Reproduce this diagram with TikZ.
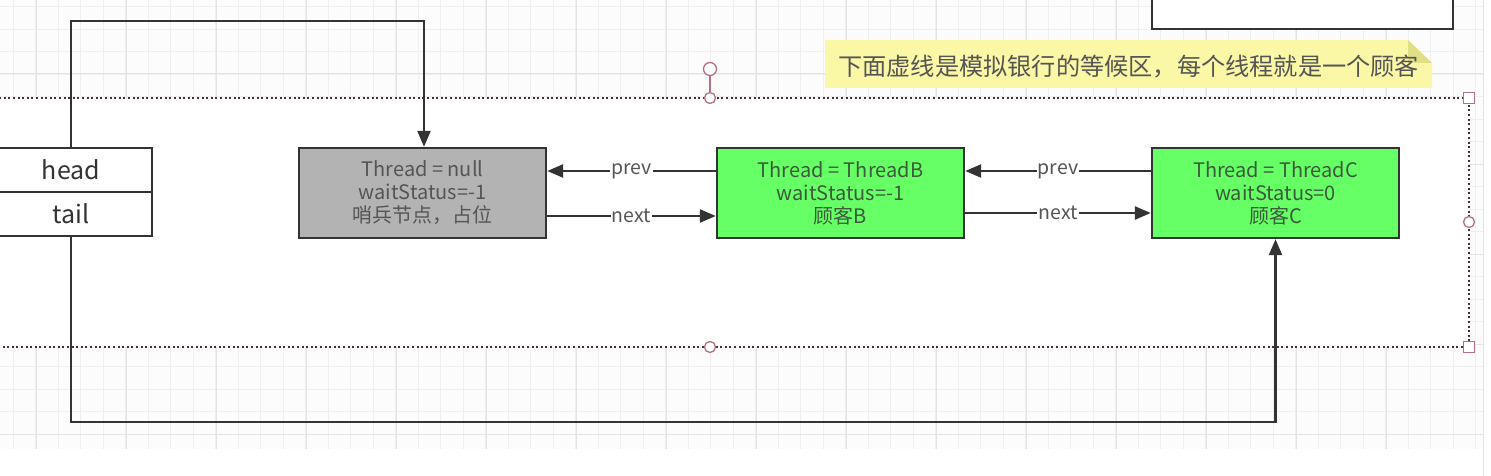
\documentclass[tikz,border=0pt]{standalone}
\usepackage{fontspec}
\setmainfont{Noto Sans CJK SC}
\usetikzlibrary{arrows.meta}
\definecolor{lineC}{HTML}{333333}
\definecolor{gridC}{HTML}{EFEFEF}
\definecolor{gridM}{HTML}{E4E4E4}
\definecolor{bgC}{HTML}{FCFCFC}
\definecolor{dotC}{HTML}{4A2A33}
\definecolor{handleC}{HTML}{B57080}
\definecolor{noteC}{HTML}{FAF8A6}
\definecolor{foldC}{HTML}{E2DE86}
\definecolor{grayC}{HTML}{B3B3B3}
\definecolor{greenC}{HTML}{66FF66}
\definecolor{txtC}{HTML}{555555}
\definecolor{gtxtC}{HTML}{3D5A3D}
\tikzset{
  nodebox/.style={draw=lineC, line width=2.4pt, minimum width=247pt, minimum height=90pt,
    align=center, font=\fontsize{20}{23}\selectfont, inner sep=0pt},
  cellbox/.style={draw=lineC, line width=2.4pt, fill=white, minimum width=162pt, minimum height=44pt,
    font=\fontsize{25}{28}\selectfont, text=lineC, inner sep=0pt},
  conn/.style={draw=lineC, line width=2.4pt},
  arr/.style={conn, -{Triangle[length=16pt,width=13pt]}},
  lbl/.style={fill=white, text=txtC, font=\fontsize{19.5}{22}\selectfont, inner sep=1pt},
  handle/.style={draw=handleC, line width=1.3pt, fill=white}
}
\begin{document}
\begin{tikzpicture}[x=1pt,y=-1pt]
\useasboundingbox (0,0) rectangle (1491,476);
\fill[white] (0,0) rectangle (1491,476);
\fill[bgC] (0,0) rectangle (1483,449);
\foreach \i in {0,...,65} \draw[gridC, line width=1pt] ({13.3+22.5*\i},0) -- ({13.3+22.5*\i},449);
\foreach \j in {0,...,19} \draw[gridC, line width=1pt] (0,{6.7+22.5*\j}) -- (1483,{6.7+22.5*\j});
\foreach \i in {0,...,15} \draw[gridM, line width=1pt] ({36+90*\i},0) -- ({36+90*\i},449);
\foreach \j in {0,...,4} \draw[gridM, line width=1pt] (0,{74+90*\j}) -- (1483,{74+90*\j});
\draw[gridM, line width=1pt] (1483,0) -- (1483,476);

% waiting area (dotted)
\fill[white] (-10,98) rectangle (1469,347);
\draw[dotC, line width=2pt, dash pattern=on 2pt off 2.6pt] (-10,98) -- (1469,98) -- (1469,347) -- (-10,347);

% top-right box
\draw[lineC, line width=2.4pt, fill=white] (1152,-10) rectangle (1453,29);

% note
\fill[noteC] (825,40) -- (1408,40) -- (1432,63) -- (1432,88) -- (825,88) -- cycle;
\fill[foldC] (1408,40) -- (1432,63) -- (1408,63) -- cycle;
\node[anchor=west, text=txtC, font=\fontsize{24.2}{26}\selectfont, inner sep=0pt] (note) at (838,67)
  {下面虚线是模拟银行的等候区，每个线程就是一个顾客};

% head / tail
\node[cellbox] (head) at (71,170) {head};
\node[cellbox] (tail) at (71,214) {tail};

% queue nodes
\node[nodebox, fill=grayC, text=txtC] (sent) at (422.5,193) {Thread = null\\waitStatus=-1\\哨兵节点，占位};
\node[nodebox, fill=greenC, text=gtxtC] (nB) at (840.5,193) {Thread = ThreadB\\waitStatus=-1\\顾客B};
\node[nodebox, fill=greenC, text=gtxtC] (nC) at (1275.5,193) {Thread = ThreadC\\waitStatus=0\\顾客C};

% head -> sentinel
\coordinate (t1) at (71,21);
\draw[arr] (head.north) -- (t1) -| ([xshift=1.5pt]sent.north);
% tail -> C
\coordinate (b1) at (71,422);
\draw[arr] (tail.south) -- (b1) -| (nC.south);

% prev / next
\draw[arr] ([yshift=22pt]nB.west) -- node[lbl]{prev} ([yshift=22pt]sent.east);
\draw[arr] ([yshift=-23pt]sent.east) -- node[lbl]{next} ([yshift=-23pt]nB.west);
\draw[arr] ([yshift=22pt]nC.west) -- node[lbl]{prev} ([yshift=22pt]nB.east);
\draw[arr] ([yshift=-20pt]nB.east) -- node[lbl]{next} ([yshift=-20pt]nC.west);

% selection handles
\draw[handleC, line width=1.3pt] (710,69) -- (710,98);
\draw[handle] (710,69) circle (6.5pt);
\draw[handle] (710,98) circle (5.5pt);
\draw[handle] (710,347) circle (5.5pt);
\draw[handle] (1469,222) circle (5.5pt);
\draw[handle] (1463.5,92.5) rectangle (1474.5,103.5);
\draw[handle] (1463.5,341.5) rectangle (1474.5,352.5);
\end{tikzpicture}
\end{document}
